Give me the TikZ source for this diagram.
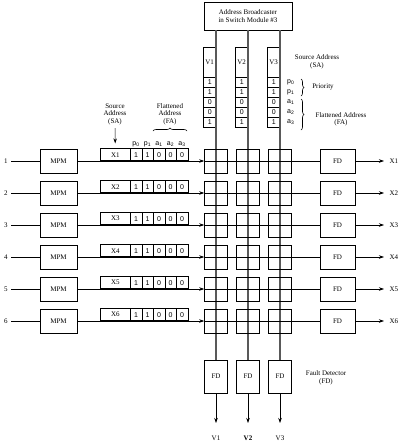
\documentclass[tikz,border=0pt]{standalone}
\usepackage{fontspec}
\setmainfont{Liberation Serif}
\setsansfont{Liberation Sans}
\usetikzlibrary{arrows.meta, positioning, calc, decorations.pathreplacing}

\begin{document}
\begin{tikzpicture}[
    x=1pt, y=-1pt,
    every node/.style={font=\fontsize{7}{7.5}\selectfont},
    box/.style={rectangle, draw, line width=0.6pt, inner sep=0pt, align=center},
    mpm/.style={box, minimum width=37pt, minimum height=24pt},
    fdbox/.style={box, minimum width=35pt, minimum height=24pt},
    xpoint/.style={box, minimum width=23pt, minimum height=24pt},
    cell/.style={box, minimum width=11.5pt, minimum height=12pt, font=\fontsize{7}{7.5}\sffamily},
    vcell/.style={box, minimum width=12pt, minimum height=10pt, font=\fontsize{7}{7.5}\sffamily},
    sublabel/.style={inner sep=1pt, font=\fontsize{7}{7.5}\sffamily},
    bus/.style={line width=1.1pt, black!65},
    link/.style={line width=0.6pt},
    arrow/.style={link, -{Stealth[length=5pt, width=3.5pt]}},
    brace/.style={decorate, decoration={brace, amplitude=3pt}, line width=0.6pt}
]
\useasboundingbox (0,0) rectangle (403,445);

% Address broadcaster
\node[box, minimum width=88pt, minimum height=28pt] (ab) at (248,16) {Address Broadcaster\\in Switch Module \#3};

% Broadcast columns V1..V3
\foreach \v/\xc/\vname in {1/216/V1, 2/248/\textbf{V2}, 3/280/V3} {
  \node[vcell, minimum height=30pt, anchor=north east, font=\fontsize{7}{7.5}\selectfont] (v\v) at (\xc,47) {V\v};
  \foreach \b [count=\k] in {1,1,0,0,1}
    \node[vcell, anchor=north east] (v\v-\k) at (\xc,{67+10*\k}) {\b};
  \node[box, minimum width=23pt, minimum height=33pt] (fdv\v) at (\xc,376.5) {FD};
  \coordinate (vend\v) at (\xc,423);
  \node[below=9pt of vend\v] (vlab\v) {\vname};
  \draw[bus] (ab.south -| fdv\v) -- (fdv\v);
  \draw[arrow] (fdv\v) -- (vend\v);
}

% Rows 1..6
\foreach \i in {1,...,6} {
  \pgfmathsetmacro\rowy{161+32*(\i-1)}
  \node (n\i) at (6,\rowy) {\i};
  \node[mpm] (mpm\i) at (58.5,\rowy) {MPM};
  \node[box, minimum width=30pt, minimum height=12pt, anchor=south west] (x\i) at (100,\rowy) {X\i};
  \foreach \b [count=\k] in {1,1,0,0,0}
    \node[cell, anchor=south west] (b\i-\k) at ({130+11.5*(\k-1)},\rowy) {\b};
  \foreach \xc [count=\j] in {216,248,280}
    \node[xpoint] (c\i-\j) at (\xc,\rowy) {};
  \node[fdbox] (fd\i) at (337.5,\rowy) {FD};
  \coordinate (xend\i) at (384,\rowy);
  \node[right=2pt of xend\i] (out\i) {X\i};
  \draw[link] (n\i) -- (mpm\i);
  \draw[arrow] (mpm\i) -- (c\i-1);
  \draw[link] (c\i-1.west) -- (fd\i);
  \draw[arrow] (fd\i) -- (xend\i);
}

% Field labels over the first packet
\foreach \lab [count=\k] in {p\textsubscript{0}, p\textsubscript{1}, a\textsubscript{1}, a\textsubscript{2}, a\textsubscript{3}}
  \node[sublabel, above=0.5pt of b1-\k] (fl\k) {\lab};
\node[align=center] (sa) at (115,114) {Source\\Address\\(SA)};
\draw[arrow, shorten >=5pt] (sa) -- (x1);
\node[align=center] (fa) at (170,114) {Flattened\\Address\\(FA)};
\draw[brace] (153,131) -- (187,131);

% Legend at the columns
\node[align=center] (sar) at (317,62) {Source Address\\(SA)};
\foreach \lab/\ly [count=\k] in {p\textsubscript{0}/82, p\textsubscript{1}/92, a\textsubscript{1}/102, a\textsubscript{2}/112, a\textsubscript{3}/122}
  \node[sublabel, anchor=west] (rl\k) at (286,\ly) {\lab};
\draw[brace] (301,79) -- (301,96);
\node (prio) at (323,87) {Priority};
\draw[brace] (301,99) -- (301,130);
\node[align=center] (far) at (341,119.5) {Flattened Address\\(FA)};

% Fault detector note
\node[align=center] (fdlab) at (326,378) {Fault Detector\\(FD)};

\end{tikzpicture}
\end{document}
